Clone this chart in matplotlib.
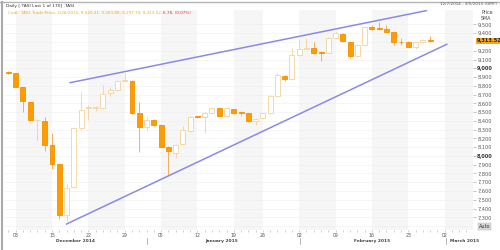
import numpy as np
import matplotlib
matplotlib.use('Agg')
import matplotlib.pyplot as plt
from matplotlib import transforms
from matplotlib.lines import Line2D

# daily TASI candles, 8 Dec 2014 .. 26 Feb 2015
opens = [8960, 8943, 8783, 8620, 8405, 8398, 8121, 7904, 7325, 7640,
         8322, 8545, 8550, 8550, 8715, 8752, 8860, 8858, 8486, 8333,
         8410, 8353, 8105, 8030, 8136, 8284, 8455, 8448, 8493, 8550,
         8455, 8532, 8500, 8486, 8398, 8429, 8486, 8687, 8916, 8878,
         9152, 9225, 9228, 9180, 9178, 9349, 9392, 9304, 9140, 9266,
         9475, 9455, 9445, 9411, 9300, 9304, 9247, 9297, 9320.21]
highs = [8965, 8950, 8790, 8625, 8420, 8440, 8258, 7910, 7680, 8330,
         8733, 8585, 8570, 8810, 8790, 8870, 8950, 8865, 8619, 8440,
         8420, 8360, 8110, 8140, 8340, 8460, 8460, 8500, 8560, 8560,
         8550, 8540, 8515, 8490, 8430, 8495, 8695, 8950, 8925, 9228,
         9331, 9342, 9304, 9201, 9355, 9429, 9400, 9310, 9275, 9480,
         9490, 9532, 9494, 9420, 9340, 9310, 9305, 9330, 9363.88]
lows = [8930, 8785, 8505, 8400, 8165, 8060, 7847, 7276, 7260, 7630,
        8296, 8410, 8515, 8540, 8680, 8745, 8850, 8480, 8048, 8300,
        8345, 8100, 7782, 7973, 8120, 8275, 8430, 8258, 8485, 8450,
        8450, 8480, 8450, 8390, 8353, 8420, 8480, 8680, 8860, 8870,
        9140, 9215, 9165, 9087, 9170, 9340, 9300, 9114, 9130, 9260,
        9440, 9440, 9410, 9266, 9266, 9240, 9217, 9290, 9297.74]
closes = [8950, 8790, 8627, 8410, 8415, 8124, 7908, 7325, 7637, 8322,
          8524, 8560, 8555, 8703, 8752, 8858, 8865, 8486, 8333, 8410,
          8353, 8105, 8059, 8124, 8296, 8448, 8440, 8493, 8550, 8459,
          8543, 8493, 8495, 8398, 8420, 8486, 8687, 8924, 8878, 9152,
          9217, 9230, 9171, 9175, 9349, 9399, 9312, 9140, 9266, 9475,
          9449, 9452, 9418, 9304, 9298, 9247, 9297, 9323, 9313.52]

# hand drawn trend lines (candle index, price)
upper_x = [8.5, 57.5]
upper_y = [8836, 9658]
lower_x = [8.0, 60.3]
lower_y = [7223, 9274]

# weekly date ticks (candle index of each Monday)
tick_pos = [1, 6, 11, 16, 21, 26, 31, 35, 40, 45, 50, 55, 60]
tick_labels = ['08', '15', '22', '29', '05', '12', '19', '26', '02', '09', '16', '23', '02']
months = ['December 2014', 'January 2015', 'February 2015', 'March 2015']
month_pos = [9.3, 29.4, 50.0, 60.7]
month_sep = [19.0, 40.1, 60.2]

last_close = 9313.52

o = np.array(opens)
h = np.array(highs)
l = np.array(lows)
c = np.array(closes)
x = np.arange(len(o))
up = c >= o

fig = plt.figure(figsize=(5, 2.5), dpi=100)
ax = fig.add_axes([0.008, 0.08, 0.938, 0.88])
xmax = 63.9
ax.set_xlim(-0.6, xmax)
ax.set_ylim(7155, 9665)

# alternating week bands
for i in range(0, len(tick_pos), 2):
    x1 = tick_pos[i + 1] if i + 1 < len(tick_pos) else xmax
    ax.axvspan(tick_pos[i], x1, color='#f6f6f6', lw=0, zorder=0)

levels = np.arange(7200, 9600, 100)
for lv in levels:
    ax.axhline(lv, color='#eeeeee', lw=0.4, zorder=0.5)

# candles
up_col = '#f3d29c'
dn_col = '#ff9d00'
diff = np.abs(c - o)
bh = np.maximum(diff, 7)
bottom = np.minimum(o, c) - (bh - diff) / 2
ax.vlines(x, l, h, colors=np.where(up, up_col, '#f2a540'), lw=0.6, zorder=2)
ax.bar(x, bh, bottom=bottom, width=0.68,
       color=np.where(up, 'white', dn_col),
       edgecolor=np.where(up, up_col, '#f39000'), lw=0.6, zorder=3)

ax.plot(upper_x, upper_y, color='#8a8ae6', lw=1.1, zorder=4)
ax.plot(lower_x, lower_y, color='#8a8ae6', lw=1.1, zorder=4)

# right price axis
shown = [v for v in levels if v >= 7300 and v != 9300]
ax.yaxis.tick_right()
ax.set_yticks(shown)
ax.set_yticklabels([f'{v:,}' for v in shown])
ax.tick_params(axis='y', length=2, width=0.4, color='#999999', labelsize=3.6,
               labelcolor='#555555', pad=1)
for t, v in zip(ax.get_yticklabels(), shown):
    if v % 1000 == 0:
        t.set_fontweight('bold')
        t.set_color('#333333')

# date axis
ax.set_xticks(tick_pos)
ax.set_xticklabels(tick_labels)
ax.set_xticks(np.arange(0, 64), minor=True)
ax.tick_params(axis='x', which='both', length=1.5, width=0.4, color='#aaaaaa',
               labelsize=3.3, labelcolor='#555555', pad=0.5)
for s in ax.spines.values():
    s.set_visible(False)

bx = transforms.blended_transform_factory(ax.transData, ax.transAxes)
for name, p in zip(months, month_pos):
    ax.text(p, -0.05, name, transform=bx, fontsize=3.2, fontweight='bold',
            color='#444444', ha='left' if name.startswith('March') else 'center',
            va='center')
for p in month_sep:
    ax.plot([p, p], [-0.035, -0.065], transform=bx, clip_on=False,
            color='#999999', lw=0.5)

by = transforms.blended_transform_factory(ax.transAxes, ax.transData)
ax.text(1.008, last_close, f'{last_close:,.2f}', transform=by, fontsize=3.6,
        fontweight='bold', va='center', color='#222222',
        bbox=dict(boxstyle='square,pad=0.15', fc='#f8a51c', ec='none'))
ax.text(1.012, 7200, 'Auto', transform=by, fontsize=3.6, va='center',
        color='#333333', bbox=dict(boxstyle='square,pad=0.2', fc='#d8d8d8', ec='#bbbbbb', lw=0.3))
fig.text(0.962, 1 - 12.7 / 250, 'Price', fontsize=3.4, color='#444444', va='center')
fig.text(0.962, 1 - 18 / 250, 'SMA', fontsize=3.4, color='#444444', va='center')

# header
fig.text(0.012, 1 - 6 / 250, 'Daily [.TASI Last 1 of 170] .TASI', fontsize=3.2,
         color='#333333', va='center')
t1 = fig.text(0.016, 1 - 13 / 250,
              'Cndl, .TASI, Trade Price, 2/26/2015, 9,320.21, 9,363.88, 9,297.74, 9,313.52, ',
              fontsize=3.0, color='#f5a623', va='center')
ax.annotate('6.78, (0.07%)', xy=(1, 0.5), xycoords=t1, va='center', ha='left',
            fontsize=3.0, color='#e03030', annotation_clip=False)
fig.text(0.994, 1 - 4 / 250, '12/7/2014 - 3/5/2015 (GMT)', fontsize=3.0,
         color='#555555', ha='right', va='center')

fig.add_artist(Line2D([0, 1], [0.994, 0.994], transform=fig.transFigure,
                      color='#b5b5b5', lw=1))
fig.add_artist(Line2D([0.003, 0.003], [0, 0.994], transform=fig.transFigure,
                      color='#aaaaaa', lw=1.5))

fig.savefig('out.png', dpi=100)
